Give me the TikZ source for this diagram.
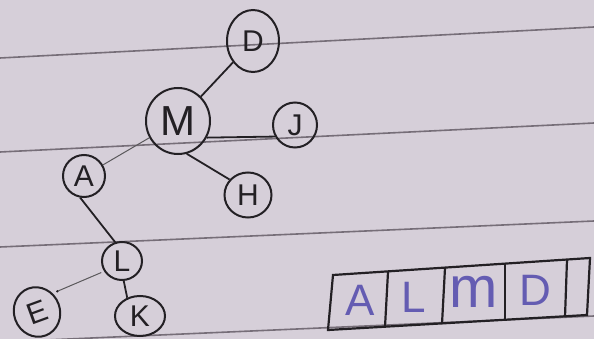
\documentclass[tikz,border=0pt]{standalone}
\usepackage{fontspec}
\setmainfont{Liberation Sans}
\usetikzlibrary{shapes.geometric,calc}
\definecolor{paper}{RGB}{214,207,217}
\definecolor{rulecol}{RGB}{118,110,120}
\definecolor{ink}{RGB}{35,32,36}
\definecolor{blueink}{RGB}{100,92,178}
\begin{document}
\begin{tikzpicture}[x=1pt,y=-1pt,
  vert/.style={ellipse, draw=ink, line width=2pt, inner sep=0pt, text=ink,
    font=\fontsize{30}{30}\selectfont},
  edge/.style={draw=ink, line width=1.8pt},
  thinedge/.style={draw=ink!75, line width=1pt},
  paperline/.style={draw=rulecol, line width=1.6pt},
  cellbox/.style={draw=ink, line width=2.2pt, line join=miter},
  celltext/.style={text=blueink, font=\fontsize{44}{44}\selectfont, inner sep=0pt}]
\fill[paper] (0,0) rectangle (594,339);
\useasboundingbox (0,0) rectangle (594,339);
% ruled paper lines
\draw[paperline] (0,58) -- (594,27);
\draw[paperline] (0,152) -- (594,123);
\draw[paperline] (0,247) -- (594,221);
\draw[paperline] (0,342) -- (594,316);
% tree nodes
\node[vert, minimum width=52pt, minimum height=62pt] (D) at (253,41) {D};
\node[vert, minimum width=64pt, minimum height=66pt, font=\fontsize{42}{42}\selectfont] (M) at (178,121) {M};
\node[vert, minimum width=44pt, minimum height=45pt] (J) at (295,125) {J};
\node[vert, minimum width=47pt, minimum height=45pt] (H) at (248,195) {H};
\node[vert, minimum width=42pt, minimum height=42pt] (A) at (84,176) {A};
\node[vert, minimum width=40pt, minimum height=38pt] (L) at (122,261) {L};
\node[vert, minimum width=46pt, minimum height=50pt, rotate=20] (E) at (37,312) {E};
\node[vert, minimum width=50pt, minimum height=40pt] (K) at (140,316) {K};
% connectors
\draw[edge] (M) -- (D);
\draw[edge] (M.-30) -- (J.210);
\draw[edge] (M.-75) -- (H.140);
\draw[thinedge] (M) -- (A);
\draw[edge] (A.-100) -- (L.110);
\draw[thinedge, shorten <=3pt, shorten >=5pt] (L.210) -- (E.30);
\fill[ink] ($(E.30)!5pt!(L.210)$) circle (1.3pt);
\draw[edge] (L.-85) -- (K.125);
% array
\coordinate (t0) at (333,275); \coordinate (b0) at (328,330);
\coordinate (t1) at (388,272); \coordinate (b1) at (385,327);
\coordinate (t2) at (445,268); \coordinate (b2) at (442,324);
\coordinate (t3) at (505,264); \coordinate (b3) at (505,320);
\coordinate (t4) at (567,260); \coordinate (b4) at (565,317);
\coordinate (t5) at (590,258); \coordinate (b5) at (587,315);
\draw[cellbox] (t0) -- (t5) -- (b5) -- (b0) -- cycle;
\draw[cellbox] (t1) -- (b1);
\draw[cellbox] (t2) -- (b2);
\draw[cellbox] (t3) -- (b3);
\draw[cellbox] (t4) -- (b4);
\node[celltext] (c1) at (360,300) {A};
\node[celltext] (c2) at (414,297) {L};
\node[celltext, font=\fontsize{58}{58}\selectfont] (c3) at (474,292) {m};
\node[celltext] (c4) at (535,290) {D};
\end{tikzpicture}
\end{document}
